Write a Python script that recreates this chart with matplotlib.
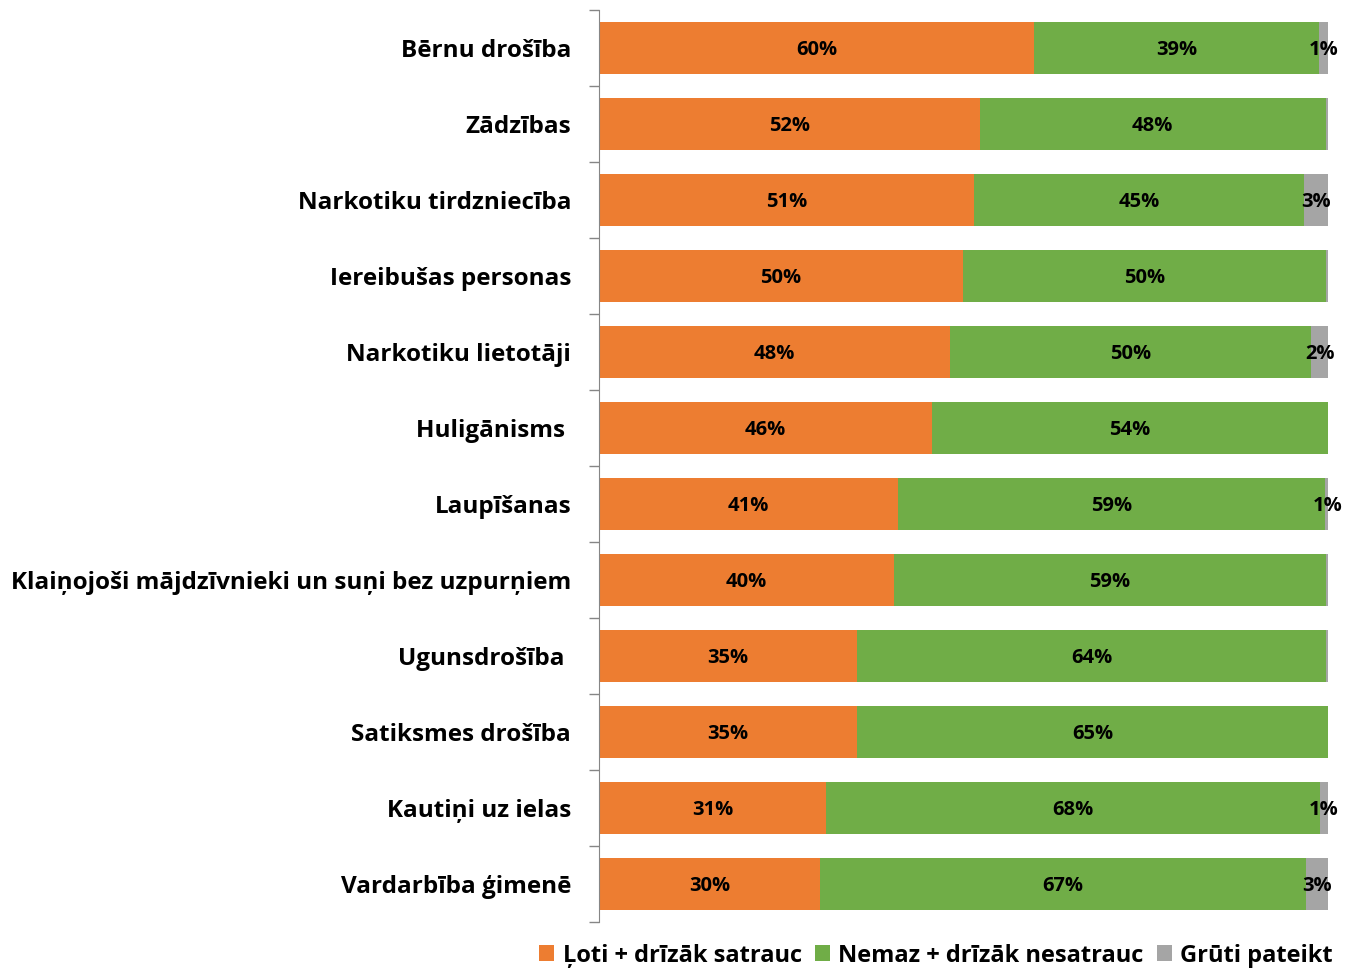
import matplotlib
import numpy as np

matplotlib.use("Agg")
import matplotlib.pyplot as plt


categories = [
    "Bērnu drošība",
    "Zādzības",
    "Narkotiku tirdzniecība",
    "Iereibušas personas",
    "Narkotiku lietotāji",
    "Huligānisms ",
    "Laupīšanas",
    "Klaiņojoši mājdzīvnieki un suņi bez uzpurņiem",
    "Ugunsdrošība ",
    "Satiksmes drošība",
    "Kautiņi uz ielas",
    "Vardarbība ģimenē",
]
concerned = [59.7, 52.2, 51.4, 49.9, 48.1, 45.7, 41.0, 40.5, 35.4, 35.4, 31.1, 30.3]
not_concerned = [39.1, 47.5, 45.3, 49.8, 49.6, 54.3, 58.6, 59.2, 64.3, 64.6, 67.8, 66.7]
hard_to_say = [1.2, 0.3, 3.3, 0.3, 2.3, 0.0, 0.6, 0.3, 0.3, 0.0, 1.1, 3.0]

series_names = ["Ļoti + drīzāk satrauc", "Nemaz + drīzāk nesatrauc", "Grūti pateikt"]
colors = ["#ED7D31", "#70AD47", "#A5A5A5"]

plt.rcParams["font.family"] = ["Open Sans", "DejaVu Sans"]

fig = plt.figure(figsize=(13.47, 9.72), dpi=100)
ax = fig.add_axes([599 / 1347, 1 - 922 / 972, 729 / 1347, 912 / 972])

y = np.arange(len(categories))
left = np.zeros(len(categories))
for name, values, color in zip(series_names, [concerned, not_concerned, hard_to_say], colors):
    vals = np.array(values)
    ax.barh(y, vals, left=left, height=0.68, color=color, label=name)
    for yi, (l, v) in enumerate(zip(left, vals)):
        if v >= 0.5:
            ax.text(l + v / 2, yi + 0.02, f"{v:.0f}%", ha="center", va="center",
                    fontsize=14.5, fontweight="bold", color="black")
    left += vals

ax.set_xlim(0, 100)
ax.set_ylim(len(categories) - 0.5, -0.5)
ax.set_yticks(y)
ax.set_yticklabels(categories, fontsize=17.5, fontweight="bold")
ax.set_yticks(np.arange(len(categories) + 1) - 0.5, minor=True)
ax.tick_params(axis="y", which="major", length=0, pad=20)
ax.tick_params(axis="y", which="minor", length=7, color="#868686", width=1)
ax.set_xticks([])
for side in ["top", "right", "bottom"]:
    ax.spines[side].set_visible(False)
ax.spines["left"].set_color("#868686")

fig.legend(loc="lower right", bbox_to_anchor=(1.0, -0.01), ncol=3, frameon=False,
           prop={"size": 17, "weight": "bold"}, handlelength=0.65, handleheight=0.65,
           handletextpad=0.35, columnspacing=0.55, borderaxespad=0.2)

fig.savefig("out.png", dpi=100)
